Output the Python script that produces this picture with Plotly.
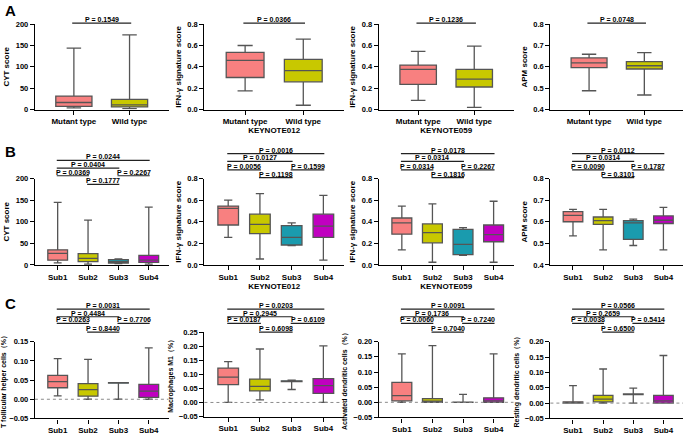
import plotly.graph_objects as go

W, H = 685, 443

# ---------------- data ----------------
COLORS = ["#F88080", "#C8C800", "#1A9BAE", "#C000C0"]
A_CATS = ["Mutant type", "Wild type"]
SUBS = ["Sub1", "Sub2", "Sub3", "Sub4"]

# each row: [lower whisker, Q1, median, Q3, upper whisker]
A1_BOX = [[4, 7.5, 16.5, 31.5, 144], [2, 6, 11, 24, 175]]
A2_BOX = [[0.175, 0.30, 0.46, 0.535, 0.60], [0.04, 0.26, 0.365, 0.47, 0.66]]
A3_BOX = [[0.085, 0.236, 0.377, 0.417, 0.545], [0.02, 0.211, 0.284, 0.377, 0.595]]
A4_BOX = [[0.488, 0.596, 0.619, 0.642, 0.659], [0.468, 0.59, 0.605, 0.624, 0.667]]

B1_BOX = [[5, 11, 27, 35, 145], [2, 7.5, 15, 26, 104], [3, 4.5, 7.5, 12.5, 14], [2, 6, 11, 22, 134]]
B2_BOX = [[0.255, 0.37, 0.525, 0.545, 0.60], [0.055, 0.29, 0.375, 0.47, 0.66],
          [0.18, 0.185, 0.255, 0.365, 0.39], [0.045, 0.255, 0.36, 0.47, 0.645]]
B3_BOX = [[0.14, 0.285, 0.39, 0.435, 0.545], [0.025, 0.205, 0.30, 0.38, 0.565],
          [0.09, 0.095, 0.19, 0.33, 0.345], [0.025, 0.215, 0.28, 0.37, 0.59]]
B4_BOX = [[0.535, 0.60, 0.63, 0.647, 0.657], [0.47, 0.588, 0.605, 0.622, 0.657],
          [0.49, 0.518, 0.595, 0.605, 0.612], [0.47, 0.592, 0.607, 0.627, 0.667]]

C1_BOX = [[0.009, 0.030, 0.046, 0.062, 0.106], [0.0, 0.008, 0.025, 0.041, 0.104],
          [0.0, 0.042, 0.0425, 0.043, 0.043], [0.0, 0.005, 0.021, 0.039, 0.134]]
C2_BOX = [[0.0, 0.063, 0.09, 0.122, 0.145], [0.009, 0.041, 0.057, 0.083, 0.19],
          [0.046, 0.074, 0.075, 0.077, 0.079], [0.0, 0.032, 0.06, 0.085, 0.201]]
C3_BOX = [[0.0, 0.005, 0.022, 0.066, 0.16], [0.0, 0.0, 0.004, 0.012, 0.187],
          [0.0, 0.0, 0.0, 0.001, 0.026], [0.0, 0.0, 0.005, 0.015, 0.16]]
C4_BOX = [[0.0, 0.0, 0.002, 0.004, 0.057], [0.0, 0.004, 0.013, 0.025, 0.111],
          [0.0, 0.028, 0.029, 0.030, 0.049], [0.0, 0.0, 0.007, 0.025, 0.155]]

# comparisons (group a, group b) drawn on bracket levels
A_PAIRS = [(0, 1)]
SUB_PAIRS = [(0, 3), (0, 2), (0, 1), (2, 3), (1, 2)]
SUB_LEVELS = [0, 1, 2, 2, 3]

A1_P = ["0.1549"]
A2_P = ["0.0366"]
A3_P = ["0.1236"]
A4_P = ["0.0748"]
B1_P = ["0.0244", "0.0404", "0.0369", "0.2267", "0.1777"]
B2_P = ["0.0016", "0.0127", "0.0056", "0.1599", "0.1198"]
B3_P = ["0.0178", "0.0314", "0.0314", "0.2267", "0.1816"]
B4_P = ["0.0112", "0.0314", "0.0090", "0.1787", "0.3101"]
C1_P = ["0.0031", "0.4484", "0.0263", "0.7706", "0.8440"]
C2_P = ["0.0203", "0.2945", "0.0187", "0.6109", "0.6098"]
C3_P = ["0.0091", "0.1736", "0.0060", "0.7240", "0.7040"]
C4_P = ["0.0566", "0.2659", "0.0038", "0.5414", "0.6500"]

# ---------------- layout helpers ----------------
def fx(p):
    return p / W


def fy(p):
    return 1 - p / H


COLS = [(33, 167), (203, 343), (378, 513), (550, 683)]
A_LEV = [20]
B1_LEV = [163, 171, 179, 188]
B_LEV = [156, 164, 173, 181]
C_LEV = [318, 326, 333, 342]

panels = [
    dict(box=A1_BOX, cats=A_CATS, col=0, y=(21, 110), yr=[0, 200], dt=50, fmt="d", yt="CYT score", xt=None, p=A1_P, pairs=A_PAIRS, lev=[0], ly=A_LEV, zero=False),
    dict(box=A2_BOX, cats=A_CATS, col=1, y=(21, 110), yr=[0, 0.8], dt=0.2, fmt=".1f", yt="IFN-γ signature score", xt="KEYNOTE012", p=A2_P, pairs=A_PAIRS, lev=[0], ly=A_LEV, zero=False),
    dict(box=A3_BOX, cats=A_CATS, col=2, y=(21, 110), yr=[0, 0.8], dt=0.2, fmt=".1f", yt="IFN-γ signature score", xt="KEYNOTE059", p=A3_P, pairs=A_PAIRS, lev=[0], ly=A_LEV, zero=False),
    dict(box=A4_BOX, cats=A_CATS, col=3, y=(21, 110), yr=[0.4, 0.8], dt=0.1, fmt=".1f", yt="APM score", xt=None, p=A4_P, pairs=A_PAIRS, lev=[0], ly=A_LEV, zero=False),
    dict(box=B1_BOX, cats=SUBS, col=0, y=(182, 272), yr=[0, 200], dt=50, fmt="d", yt="CYT score", xt=None, p=B1_P, pairs=SUB_PAIRS, lev=SUB_LEVELS, ly=B1_LEV, zero=False),
    dict(box=B2_BOX, cats=SUBS, col=1, y=(182, 272), yr=[0, 0.8], dt=0.2, fmt=".1f", yt="IFN-γ signature score", xt="KEYNOTE012", p=B2_P, pairs=SUB_PAIRS, lev=SUB_LEVELS, ly=B_LEV, zero=False),
    dict(box=B3_BOX, cats=SUBS, col=2, y=(182, 272), yr=[0, 0.8], dt=0.2, fmt=".1f", yt="IFN-γ signature score", xt="KEYNOTE059", p=B3_P, pairs=SUB_PAIRS, lev=SUB_LEVELS, ly=B_LEV, zero=False),
    dict(box=B4_BOX, cats=SUBS, col=3, y=(182, 272), yr=[0.4, 0.8], dt=0.1, fmt=".1f", yt="APM score", xt=None, p=B4_P, pairs=SUB_PAIRS, lev=SUB_LEVELS, ly=B_LEV, zero=False),
    dict(box=C1_BOX, cats=SUBS, col=0, y=(352, 432), yr=[-0.05, 0.15], dt=0.05, fmt=".2f", yt="T follicular helper cells（%）", xt=None, p=C1_P, pairs=SUB_PAIRS, lev=SUB_LEVELS, ly=C_LEV, zero=True),
    dict(box=C2_BOX, cats=SUBS, col=1, y=(342, 430), yr=[-0.05, 0.25], dt=0.05, fmt=".2f", yt="Macrophages M1（%）", xt=None, p=C2_P, pairs=SUB_PAIRS, lev=SUB_LEVELS, ly=C_LEV, zero=True),
    dict(box=C3_BOX, cats=SUBS, col=2, y=(352, 431), yr=[-0.05, 0.20], dt=0.05, fmt=".2f", yt="Activated dendritic cells（%）", xt=None, p=C3_P, pairs=SUB_PAIRS, lev=SUB_LEVELS, ly=C_LEV, zero=True),
    dict(box=C4_BOX, cats=SUBS, col=3, y=(352, 432), yr=[-0.05, 0.20], dt=0.05, fmt=".2f", yt="Resting dendritic cells（%）", xt=None, p=C4_P, pairs=SUB_PAIRS, lev=SUB_LEVELS, ly=C_LEV, zero=True),
]

FONT = "Liberation Sans, Arial, sans-serif"
fig = go.Figure()
shapes = []
annotations = []
layout = {}

for i, pn in enumerate(panels, start=1):
    xa = "x" if i == 1 else f"x{i}"
    ya = "y" if i == 1 else f"y{i}"
    n = len(pn["cats"])
    for j, (lo, q1, me, q3, up) in enumerate(pn["box"]):
        fig.add_trace(go.Box(
            x=[j], lowerfence=[lo], q1=[q1], median=[me], q3=[q3], upperfence=[up],
            fillcolor=COLORS[j], line=dict(color="#555555", width=1.3),
            whiskerwidth=0.4, width=0.65, boxpoints=False,
            xaxis=xa, yaxis=ya, showlegend=False, hoverinfo="skip"))
    x0, x1 = COLS[pn["col"]]
    xr = [-0.7, 1.7] if n == 2 else [-0.75, 3.65]
    axline = dict(showline=True, linecolor="black", linewidth=1.3, ticks="outside",
                  ticklen=4, tickwidth=1.3, tickcolor="black", showgrid=False,
                  zeroline=False, fixedrange=True)
    ytsize = 7 if pn["zero"] else 8
    layout["xaxis" if i == 1 else f"xaxis{i}"] = dict(
        domain=[fx(x0), fx(x1)], anchor=ya, range=xr,
        tickvals=list(range(n)), ticktext=pn["cats"],
        tickfont=dict(size=8, family=FONT, color="black", weight="bold"),
        title=dict(text=pn["xt"] or "", font=dict(size=8, family=FONT, color="black", weight="bold"), standoff=2),
        **axline)
    layout["yaxis" if i == 1 else f"yaxis{i}"] = dict(
        domain=[fy(pn["y"][1]), fy(pn["y"][0])], anchor=xa, range=pn["yr"],
        tick0=pn["yr"][0], dtick=pn["dt"], tickformat=pn["fmt"],
        tickfont=dict(size=7.5, family=FONT, color="black", weight="bold"),
        title=dict(text=pn["yt"], font=dict(size=ytsize, family=FONT, color="black", weight="bold"), standoff=4),
        **axline)
    if pn["zero"]:
        shapes.append(dict(type="line", xref=f"{xa} domain", x0=0, x1=1, yref=ya, y0=0, y1=0,
                           line=dict(color="#8a8a8a", width=1, dash="dot")))
    for (a, b), lv, p in zip(pn["pairs"], pn["lev"], pn["p"]):
        yy = fy(pn["ly"][lv])
        shapes.append(dict(type="line", xref=xa, x0=a - 0.03, x1=b + 0.03, yref="paper", y0=yy, y1=yy,
                           line=dict(color="#222222", width=1.2)))
        annotations.append(dict(x=(a + b) / 2, xref=xa, y=yy, yref="paper", yanchor="bottom",
                                text=f"P = {p}", showarrow=False, borderpad=0, yshift=-1,
                                font=dict(size=7, family=FONT, color="black", weight="bold")))

for letter, yy in [("A", 7), ("B", 154), ("C", 312)]:
    annotations.append(dict(x=fx(1), y=fy(yy), xref="paper", yref="paper", xanchor="left",
                            yanchor="middle", text=letter, showarrow=False,
                            font=dict(size=15, family=FONT, color="black", weight="bold")))

fig.update_layout(width=W, height=H, margin=dict(l=0, r=0, t=0, b=0),
                  paper_bgcolor="white", plot_bgcolor="white", boxmode="overlay",
                  shapes=shapes, annotations=annotations, **layout)

fig.write_html("out.html", config={"displayModeBar": False},
               post_script="document.body.style.margin='0';document.body.style.overflow='hidden';")
